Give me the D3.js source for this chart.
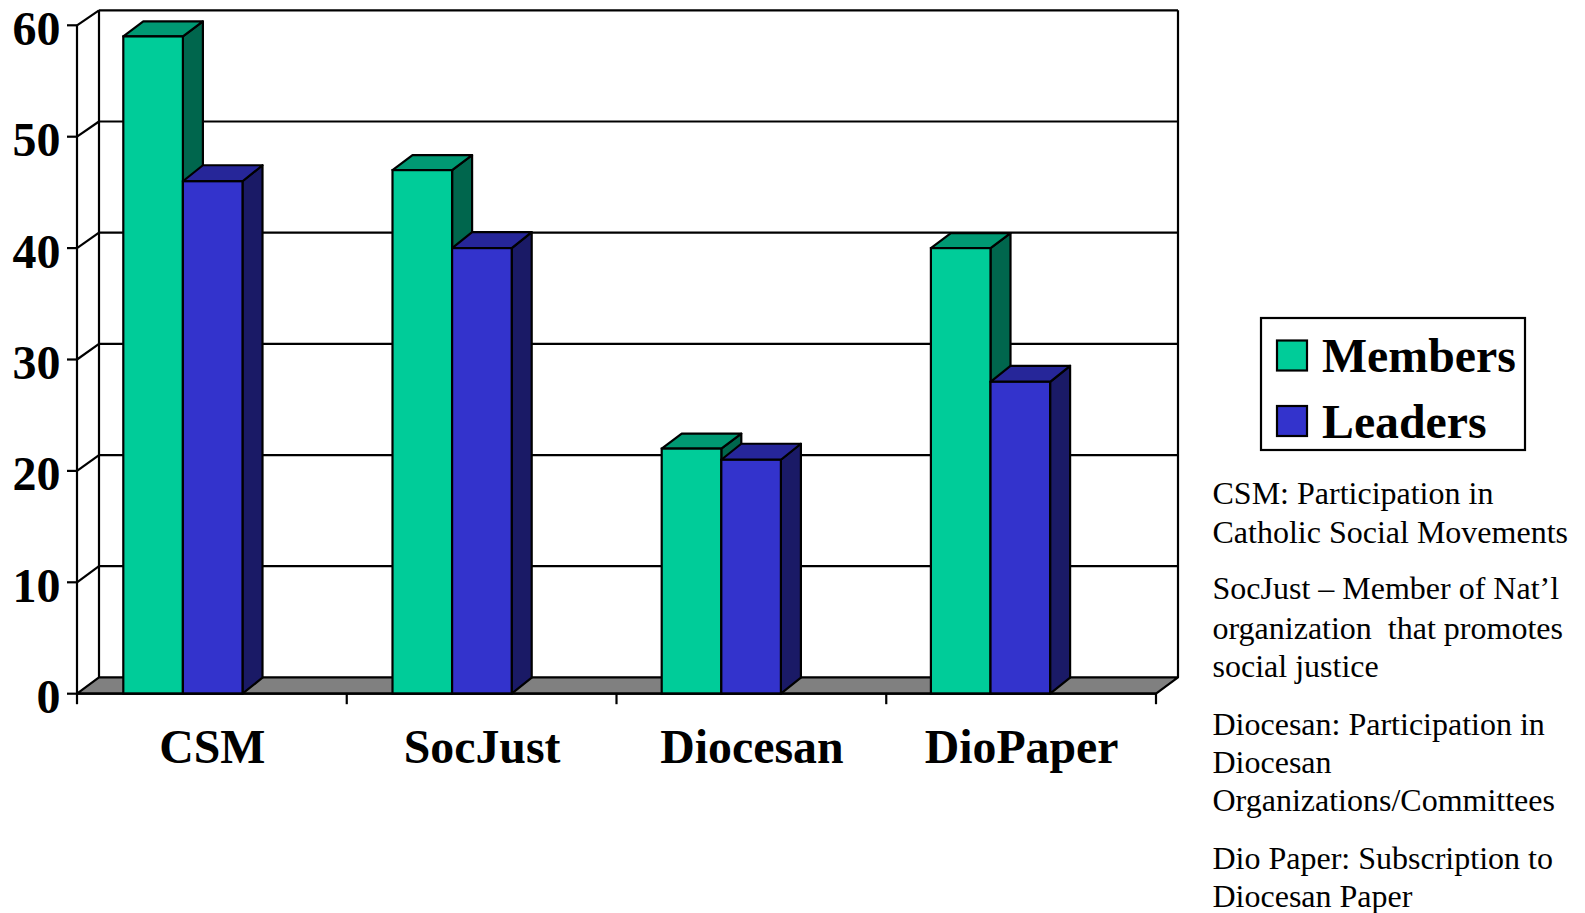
<!DOCTYPE html>
<html><head><meta charset="utf-8">
<script src="https://cdn.jsdelivr.net/npm/d3@7/dist/d3.min.js"></script>
<style>html,body{margin:0;padding:0;background:#fff}svg{display:block}text{font-family:"Liberation Serif",serif;fill:#000}</style>
</head><body><svg id="c" width="1585" height="913"></svg>
<script>
const categories = ["CSM","SocJust","Diocesan","DioPaper"];
const members = [59,47,22,40];
const leaders = [46,40,21,28];
const seriesNames = ["Members","Leaders"];
const yTicks = [0,10,20,30,40,50,60];
const notes = [
 ["CSM: Participation in","Catholic Social Movements"],
 ["SocJust \u2013 Member of Nat\u2019l","organization  that promotes","social justice"],
 ["Diocesan: Participation in","Diocesan","Organizations/Committees"],
 ["Dio Paper: Subscription to","Diocesan Paper"]
];
const noteBaselines = [[504,543],[599,639,677],[735,773,811],[869,907]];
const fills = {Members:{f:"#00cc99",t:"#009973",s:"#00664d",dy:15},Leaders:{f:"#3333cc",t:"#262699",s:"#1a1a66",dy:16}};

const svg = d3.select("#c");
const x = d3.scaleBand().domain(categories).range([77,1156]);
const xBars = d3.scaleBand().domain(categories).range([123.3,123.3+4*269.2]);
const y = d3.scaleLinear().domain([0,60]).range([693.7,25.3]);
const yBack = d3.scaleLinear().domain([0,60]).range([677.4,10.3]);
const wallDx = 22, barDx = 20, barW = 59.6;
const sw = 2.2;
const line = (a,b,c,d,w=sw)=>svg.append("line").attr("x1",a).attr("y1",b).attr("x2",c).attr("y2",d).attr("stroke","#000").attr("stroke-width",w);
const poly = (pts,fill)=>svg.append("polygon").attr("points",pts.map(p=>p.join(",")).join(" ")).attr("fill",fill).attr("stroke","#000").attr("stroke-width",sw).attr("stroke-linejoin","round");

const xL=x.range()[0], xR=x.range()[1], y0=y(0);
// floor
poly([[xL,y0],[xL+wallDx,yBack(0)],[xR+wallDx,yBack(0)],[xR,y0]],"#808080");
// back wall and grid
yTicks.forEach(t=>{ if(t>0){ line(xL,y(t),xL+wallDx,yBack(t)); line(xL+wallDx,yBack(t),xR+wallDx,yBack(t));} });
line(xL+wallDx,yBack(60),xL+wallDx,yBack(0));
line(xR+wallDx,yBack(60),xR+wallDx,yBack(0));
line(xL,y(60),xL,y0);
// ticks
yTicks.forEach(t=>{
  line(xL-10,y(t),xL,y(t));
  svg.append("text").attr("x",60.5).attr("y",y(t)+19.5).attr("text-anchor","end").attr("font-weight","bold").attr("font-size",48).text(t);
});
[...categories.map(c=>x(c)),xR].forEach(p=>line(p,y0,p,y0+10.5));
categories.forEach(c=>svg.append("text").attr("x",x(c)+x.bandwidth()/2+0.5).attr("y",763).attr("text-anchor","middle").attr("font-weight","bold").attr("font-size",47.8).text(c));

function bar(cat,val,off,col){
  const l=xBars(cat)+off, r=l+barW, t=y(val);
  poly([[r,t],[r+barDx,t-col.dy],[r+barDx,y0-col.dy],[r,y0]],col.s);
  poly([[l,t],[l+barDx,t-col.dy],[r+barDx,t-col.dy],[r,t]],col.t);
  svg.append("rect").attr("x",l).attr("y",t).attr("width",barW).attr("height",y0-t).attr("fill",col.f).attr("stroke","#000").attr("stroke-width",sw);
}
categories.forEach((c,i)=>{
  bar(c,members[i],0,fills.Members);
  bar(c,leaders[i],barW,fills.Leaders);
});
line(xL,y0,xR,y0);

// legend
svg.append("rect").attr("x",1261).attr("y",318).attr("width",264).attr("height",132).attr("fill","#fff").attr("stroke","#000").attr("stroke-width",2.2);
seriesNames.forEach((n,i)=>{
  const sy=[340.5,406][i], by=[372,438][i];
  svg.append("rect").attr("x",1277).attr("y",sy).attr("width",30).attr("height",30).attr("fill",fills[n].f).attr("stroke","#000").attr("stroke-width",2.2);
  svg.append("text").attr("x",1322).attr("y",by).attr("font-weight","bold").attr("font-size",47.8).text(n);
});
// notes
notes.forEach((g,i)=>g.forEach((s,j)=>{
  svg.append("text").attr("x",1212.5).attr("y",noteBaselines[i][j]).attr("font-size",32).style("white-space","pre").text(s);
}));
</script></body></html>
